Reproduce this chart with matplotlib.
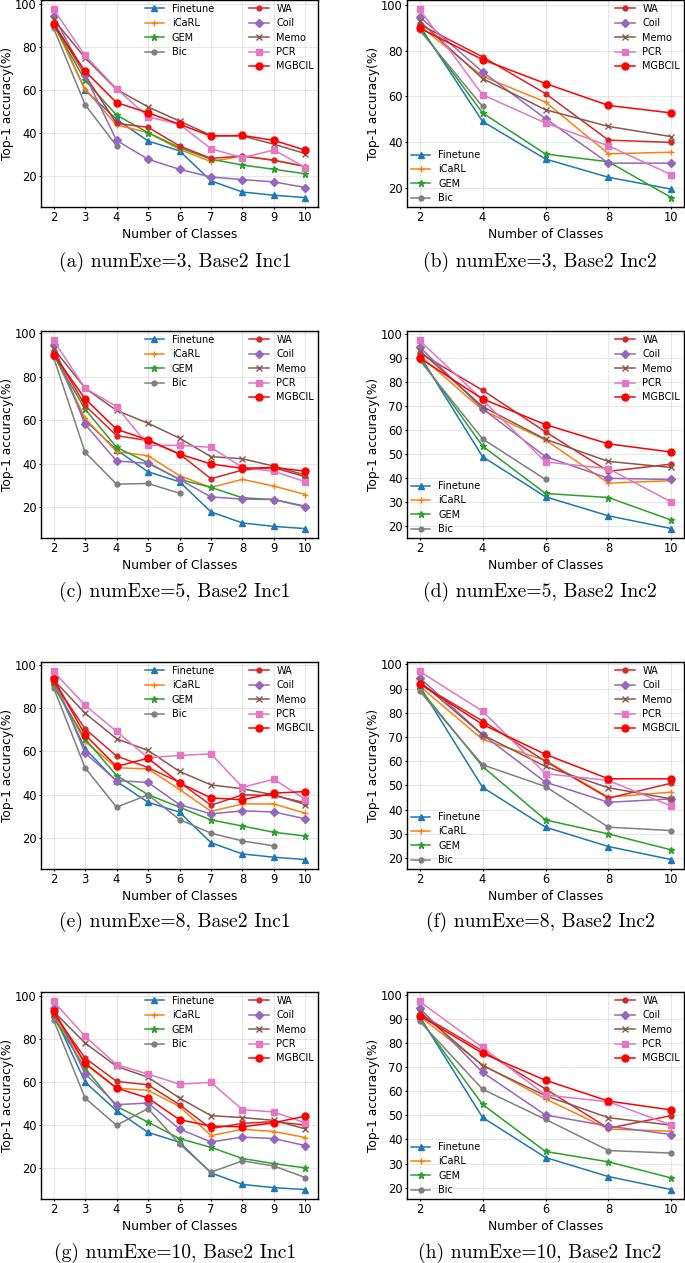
import matplotlib.pyplot as plt

plt.rcParams['font.family'] = ['DejaVu Sans']

# x 轴
x_inc1 = [2, 3, 4, 5, 6, 7, 8, 9, 10]
x_inc2 = [2, 4, 6, 8, 10]

methods = ['Finetune', 'iCaRL', 'GEM', 'Bic', 'WA', 'Coil', 'Memo', 'PCR', 'MGBCIL']

# (a) numExe=3, Base2 Inc1
acc_a = {
    'Finetune': [92, 60.1, 46.4, 36.3, 31.7, 17.7, 12.5, 11.0, 9.9],
    'iCaRL': [91, 60.4, 43.8, 40.2, 32.4, 26.7, 29.3, 27.3, 24.5],
    'GEM': [90.5, 64.6, 48.4, 40.2, 33.2, 27.8, 25.1, 23.1, 21.0],
    'Bic': [89, 53.3, 34.0],
    'WA': [91.5, 67.0, 44.5, 42.7, 34.0, 28.2, 29.3, 27.3, 24.4],
    'Coil': [94.6, 67.0, 36.6, 27.8, 23.1, 19.5, 18.3, 17.2, 14.6],
    'Memo': [93, 75.1, 60.4, 52.2, 45.6, 38.9, 38.6, 34.8, 30.4],
    'PCR': [97.7, 76.2, 60.7, 47.6, 44.1, 32.7, 28.5, 32.1, 23.9],
    'MGBCIL': [90.7, 68.9, 54.2, 49.5, 44.1, 38.6, 38.9, 36.6, 32.0],
}

# (b) numExe=3, Base2 Inc2
acc_b = {
    'Finetune': [91, 49.0, 32.5, 24.5, 19.3],
    'iCaRL': [91, 68.8, 57.5, 34.8, 35.5],
    'GEM': [90, 52.7, 34.7, 31.3, 15.6],
    'Bic': [89, 55.6],
    'WA': [91.5, 77.3, 61.2, 40.8, 39.8],
    'Coil': [94.9, 70.7, 50.2, 30.7, 30.7],
    'Memo': [93, 67.8, 54.1, 46.8, 42.3],
    'PCR': [98.1, 60.7, 48.3, 38.3, 25.6],
    'MGBCIL': [89.9, 76.1, 65.6, 56.0, 52.7],
}

# (c) numExe=5, Base2 Inc1
acc_c = {
    'Finetune': [91, 60.0, 46.3, 36.2, 31.6, 17.7, 12.6, 11.0, 10.0],
    'iCaRL': [91, 60.9, 45.5, 43.6, 34.4, 29.0, 32.7, 29.6, 25.7],
    'GEM': [90, 65.1, 47.5, 40.4, 32.7, 29.0, 24.2, 23.4, 20.3],
    'Bic': [89, 45.2, 30.5, 30.8, 26.3],
    'WA': [91.8, 66.8, 52.9, 50.6, 44.4, 33.0, 37.0, 38.1, 33.9],
    'Coil': [94.5, 58.1, 41.2, 40.1, 32.7, 24.6, 23.6, 23.4, 20.0],
    'Memo': [93, 74.8, 64.5, 58.6, 51.7, 43.2, 42.2, 38.8, 34.7],
    'PCR': [96.8, 74.8, 66.3, 48.4, 48.4, 47.5, 38.2, 36.4, 31.6],
    'MGBCIL': [90.3, 69.9, 55.8, 50.9, 44.4, 39.8, 37.8, 38.2, 36.5],
}

# (d) numExe=5, Base2 Inc2
acc_d = {
    'Finetune': [91, 48.9, 32.2, 24.3, 19.0],
    'iCaRL': [91, 68.3, 55.8, 37.9, 38.9],
    'GEM': [90, 53.3, 33.6, 31.9, 22.5],
    'Bic': [89, 56.3, 39.4],
    'WA': [92, 76.5, 59.2, 42.8, 45.8],
    'Coil': [94.5, 68.8, 48.9, 39.9, 39.4],
    'Memo': [93, 69.7, 56.1, 46.9, 44.4],
    'PCR': [97.2, 72.5, 46.7, 43.9, 30.0],
    'MGBCIL': [89.9, 72.9, 62.2, 54.2, 50.8],
}

# (e) numExe=8, Base2 Inc1
acc_e = {
    'Finetune': [92, 61.2, 46.1, 36.5, 31.9, 17.8, 12.6, 11.1, 10.0],
    'iCaRL': [91, 64.5, 52.4, 51.9, 42.4, 32.3, 35.7, 35.7, 31.4],
    'GEM': [90, 65.8, 48.8, 40.0, 34.2, 28.3, 25.5, 22.6, 20.9],
    'Bic': [89.4, 52.4, 34.2, 39.9, 28.5, 22.2, 18.6, 16.3],
    'WA': [92, 70.4, 57.8, 52.5, 45.7, 35.1, 39.9, 39.6, 36.2],
    'Coil': [94.5, 59.2, 46.5, 45.6, 35.4, 31.1, 32.5, 32.0, 28.8],
    'Memo': [93, 77.6, 65.8, 60.4, 50.7, 44.5, 42.7, 39.9, 35.4],
    'PCR': [96.9, 81.2, 69.2, 57.0, 58.1, 58.8, 43.4, 47.1, 37.7],
    'MGBCIL': [93.5, 67.6, 53.0, 56.8, 45.4, 38.5, 37.6, 40.7, 41.4],
}

# (f) numExe=8, Base2 Inc2
acc_f = {
    'Finetune': [91, 49.2, 32.7, 24.7, 19.3],
    'iCaRL': [91, 69.0, 60.3, 45.1, 47.2],
    'GEM': [90, 57.8, 35.7, 29.9, 23.3],
    'Bic': [89, 58.5, 49.5, 32.7, 31.3],
    'WA': [92, 76.6, 59.9, 44.7, 50.9],
    'Coil': [94.5, 71.0, 51.3, 43.0, 44.4],
    'Memo': [93, 70.9, 57.8, 49.0, 44.4],
    'PCR': [97.1, 80.7, 54.8, 52.0, 41.4],
    'MGBCIL': [92.0, 75.2, 62.8, 52.7, 52.7],
}

# (g) numExe=10, Base2 Inc1
acc_g = {
    'Finetune': [92, 60.1, 46.7, 36.6, 32.0, 17.7, 12.3, 10.8, 9.9],
    'iCaRL': [91, 68.5, 57.3, 56.2, 48.7, 35.1, 38.0, 37.0, 34.2],
    'GEM': [90, 66.6, 48.7, 41.4, 33.7, 29.6, 24.4, 22.0, 20.0],
    'Bic': [89, 52.6, 39.9, 47.7, 31.2, 18.0, 23.3, 20.9, 15.5],
    'WA': [92, 71.3, 60.4, 58.8, 49.5, 38.4, 40.8, 41.6, 40.0],
    'Coil': [94.5, 64.0, 49.5, 50.3, 38.2, 32.1, 34.4, 33.7, 30.4],
    'Memo': [93, 78.3, 67.4, 62.3, 52.6, 44.4, 43.5, 42.2, 38.2],
    'PCR': [97.7, 81.4, 68.2, 63.8, 59.1, 59.9, 47.2, 46.1, 41.0],
    'MGBCIL': [93.3, 68.9, 57.3, 52.6, 42.5, 39.5, 39.2, 41.1, 44.2],
}

# (h) numExe=10, Base2 Inc2
acc_h = {
    'Finetune': [91, 49.1, 32.5, 24.6, 19.2],
    'iCaRL': [91, 70.9, 56.8, 44.3, 43.4],
    'GEM': [90, 54.5, 35.0, 30.7, 24.0],
    'Bic': [89, 60.8, 48.3, 35.4, 34.3],
    'WA': [92, 76.7, 60.9, 44.6, 49.9],
    'Coil': [94.5, 67.8, 50.1, 45.5, 42.0],
    'Memo': [93, 70.6, 58.1, 49.0, 45.9],
    'PCR': [97.2, 78.1, 58.4, 55.6, 45.9],
    'MGBCIL': [91.3, 75.7, 64.5, 55.9, 52.2],
}

captions = ['(a) numExe=3, Base2 Inc1', '(b) numExe=3, Base2 Inc2',
            '(c) numExe=5, Base2 Inc1', '(d) numExe=5, Base2 Inc2',
            '(e) numExe=8, Base2 Inc1', '(f) numExe=8, Base2 Inc2',
            '(g) numExe=10, Base2 Inc1', '(h) numExe=10, Base2 Inc2']

# 样式
colors = ['tab:blue', 'tab:orange', 'tab:green', 'tab:gray', 'tab:red',
          'tab:purple', 'tab:brown', 'tab:pink', 'red']
markers = ['^', '+', '*', 'o', 'o', 'D', 'x', 's', 'o']
msizes = [4, 5, 4.5, 3.5, 3.5, 4.5, 4.5, 4.5, 5]

W, H = 685, 1263
fig = plt.figure(figsize=(W / 100, H / 100), dpi=100)

panels = [acc_a, acc_b, acc_c, acc_d, acc_e, acc_f, acc_g, acc_h]
row_tops = [0, 331, 662, 992]
col_lefts = [41, 407]
ax_w, ax_h = 277, 207
cap_x = [175, 540]
cap_y = [262, 592, 922, 1253]

for i, acc in enumerate(panels):
    r, c = divmod(i, 2)
    left, top = col_lefts[c], row_tops[r]
    ax = fig.add_axes([left / W, 1 - (top + ax_h) / H, ax_w / W, ax_h / H])
    xs = x_inc1 if c == 0 else x_inc2
    lines = []
    for m, col, mk, ms in zip(methods, colors, markers, msizes):
        y = acc[m]
        ln, = ax.plot(xs[:len(y)], y, color=col, marker=mk, markersize=ms,
                      linewidth=1.1, label=m)
        lines.append(ln)
    ax.set_xticks(xs)
    if c == 0 or i == 1:
        ax.set_yticks([20, 40, 60, 80, 100])
    else:
        ax.set_yticks(range(20, 101, 10))
    ax.grid(True, alpha=0.3)
    ax.tick_params(labelsize=8.3, length=1.5, pad=1.5)
    for s in ax.spines.values():
        s.set_linewidth(1.0)
    ax.set_xlabel('Number of Classes', fontsize=8.8, labelpad=2.5)
    ax.set_ylabel('Top-1 accuracy(%)', fontsize=8.8, labelpad=0.5)

    kw = dict(frameon=False, fontsize=7, labelspacing=0.45,
              borderaxespad=0.1, borderpad=0.3)
    if c == 0:
        leg1 = ax.legend(handles=lines[:4], loc='upper center', **kw)
    else:
        leg1 = ax.legend(handles=lines[:4], loc='lower left', **kw)
    ax.add_artist(leg1)
    ax.legend(handles=lines[4:], loc='upper right', **kw)

    fig.text(cap_x[c] / W, 1 - cap_y[r] / H, captions[i], ha='center',
             va='center', family='cmr10', fontsize=14.2)

fig.savefig('out.png', dpi=100)
